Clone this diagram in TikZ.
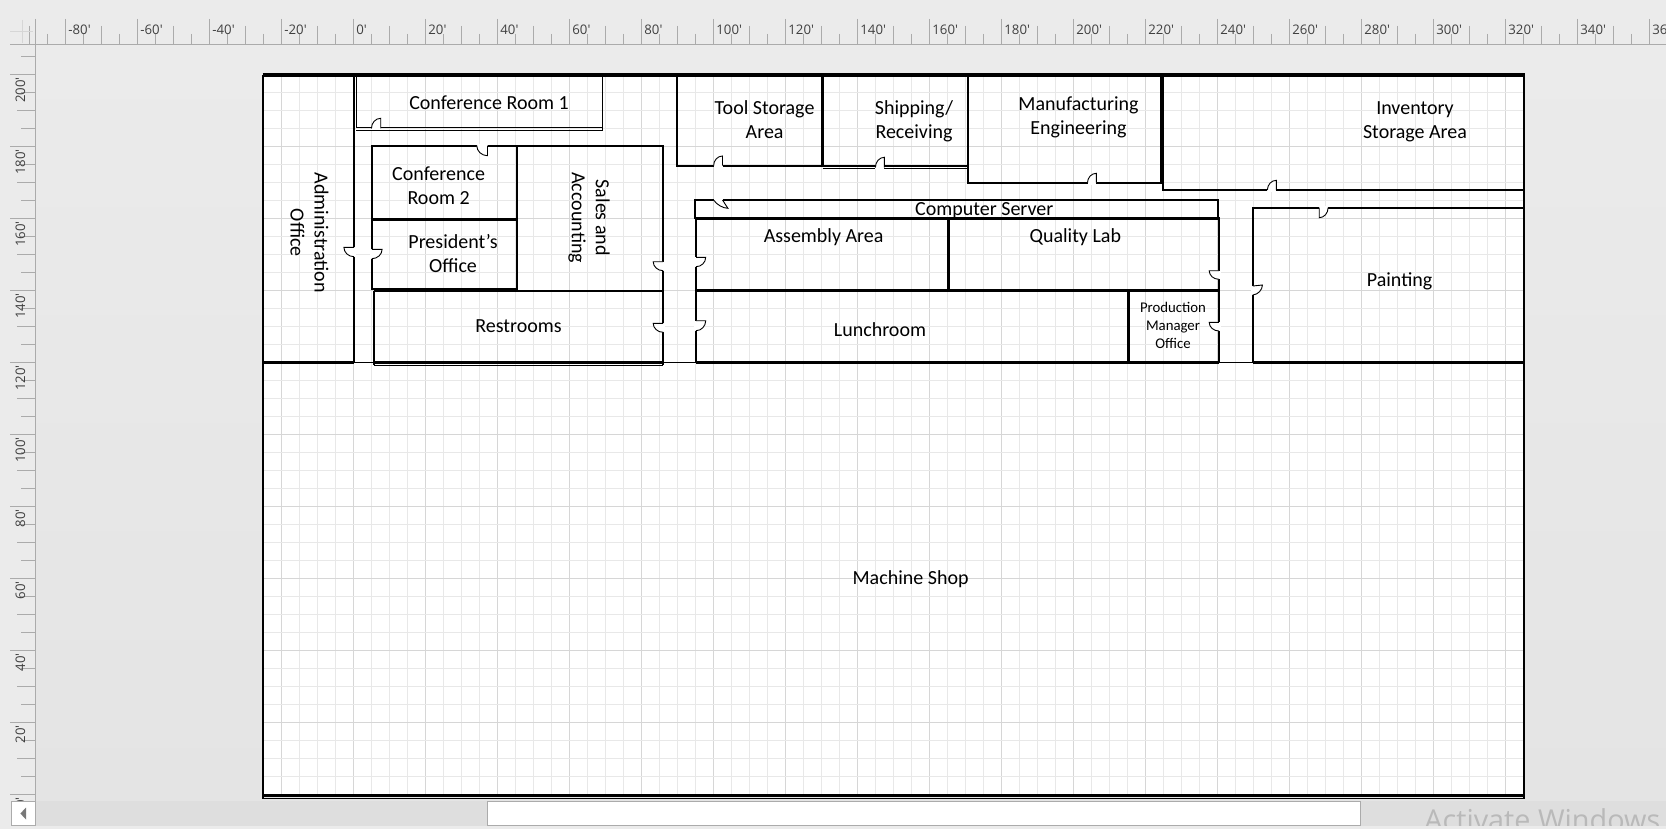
\documentclass[tikz,border=0pt]{standalone}
\usepackage{fontspec}
\setmainfont{Carlito}
\newfontfamily\uifont{Open Sans}
\definecolor{canvastop}{HTML}{EBEBEB}
\definecolor{canvasbottom}{HTML}{E4E4E4}
\definecolor{chromegrey}{HTML}{EBEBEB}
\definecolor{bargrey}{HTML}{DEDEDE}
\definecolor{tickgrey}{HTML}{ABABAB}
\definecolor{gridmajor}{HTML}{D6D6D6}
\definecolor{gridminor}{HTML}{E8E8E8}
\definecolor{rulertext}{HTML}{404040}
\definecolor{watermark}{HTML}{B9B9B9}
\tikzset{
  rulertick/.style={draw=tickgrey,line width=0.5pt},
  rulerlabel/.style={inner sep=0pt,text=rulertext,font=\uifont\fontsize{6.6}{8}\selectfont},
  wall/.style={draw=black,line width=1pt},
  thinwall/.style={draw=black,line width=0.6pt},
  thickwall/.style={draw=black,line width=1.6pt},
  roomlabel/.style={inner sep=0pt,align=center,font=\fontsize{10}{12}\selectfont},
  smalllabel/.style={inner sep=0pt,align=center,font=\fontsize{7.4}{9}\selectfont},
  doorleaf/.style={draw=black,line width=0.45pt,fill=white},
}
\newcommand{\doorsym}[6]{% hinge x,y ; leaf end x,y ; closing end x,y
  \draw[white,line width=1.9pt] (#1,#2) -- (#5,#6);
  \draw[doorleaf] (#1,#2) -- (#3,#4)
    .. controls ({#3+0.55*(#5-#1)},{#4+0.55*(#6-#2)}) and ({#5+0.55*(#3-#1)},{#6+0.55*(#4-#2)}) .. (#5,#6);
}
\begin{document}
\begin{tikzpicture}[x=0.5pt,y=-0.5pt]
\useasboundingbox (0,0) rectangle (1666,829);
\begin{scope}
\clip (0,0) rectangle (1666,829);
% window chrome
\fill[chromegrey] (0,0) rectangle (1666,829);
\shade[top color=canvastop,bottom color=canvasbottom] (35.7,44.5) rectangle (1666,801.3);
% top ruler
\foreach \k in {-18,...,73}{
  \pgfmathsetmacro{\tx}{353.5+18*\k}
  \pgfmathtruncatemacro{\mfour}{mod(\k+400,4)}
  \pgfmathtruncatemacro{\mtwo}{mod(\k+400,2)}
  \pgfmathsetmacro{\ty}{\mfour==0?19:(\mtwo==0?26:34)}
  \draw[rulertick] (\tx,\ty) -- (\tx,44.5);
}
\foreach \f in {-80,-60,...,360}{
  \pgfmathsetmacro{\tx}{353.5+3.6*\f+2.5}
  \node[rulerlabel,anchor=west] (top\f) at (\tx,29.5) {\f'};
}
% left ruler
\foreach \k in {-1,...,40}{
  \pgfmathsetmacro{\ty}{74.5+18*\k}
  \pgfmathtruncatemacro{\mfour}{mod(\k+400,4)}
  \pgfmathtruncatemacro{\mtwo}{mod(\k+400,2)}
  \pgfmathsetmacro{\tx}{\mfour==0?10:(\mtwo==0?17:21)}
  \draw[rulertick] (\tx,\ty) -- (35.5,\ty);
}
\foreach \f in {200,180,...,0}{
  \pgfmathsetmacro{\ty}{794.5-3.6*\f+2.5}
  \node[rulerlabel,rotate=90,anchor=east] (left\f) at (20.4,\ty) {\f'};
}
\draw[rulertick] (10,44.5) -- (1666,44.5);
\draw[rulertick] (35.5,19) -- (35.5,801.3);
\draw[gridmajor,line width=0.5pt] (10,31.5) -- (33,31.5) (22.5,20) -- (22.5,43);
% page
\fill[white] (263.2,75) rectangle (1523.9,796);
\begin{scope}
\clip (263.2,75) rectangle (1523.9,796);
\foreach \k in {-5,...,65}{
  \pgfmathsetmacro{\gx}{353.5+18*\k}
  \pgfmathtruncatemacro{\mfour}{mod(\k+400,4)}
  \ifnum\mfour=0\relax
    \draw[gridmajor,line width=0.5pt] (\gx,75) -- (\gx,796);
  \else
    \draw[gridminor,line width=0.5pt] (\gx,75) -- (\gx,796);
  \fi
}
\foreach \k in {0,...,40}{
  \pgfmathsetmacro{\gy}{74.5+18*\k}
  \pgfmathtruncatemacro{\mfour}{mod(\k+400,4)}
  \ifnum\mfour=0\relax
    \draw[gridmajor,line width=0.5pt] (263.2,\gy) -- (1523.9,\gy);
  \else
    \draw[gridminor,line width=0.5pt] (263.2,\gy) -- (1523.9,\gy);
  \fi
}
\end{scope}
% outer walls
\draw[thickwall] (262.5,75) -- (1524.5,75);
\draw[wall] (263.2,75) -- (263.2,798.5);
\draw[wall] (1523.6,75) -- (1523.6,798.5);
\draw[line width=1.5pt] (262.5,795.2) -- (1524.5,795.2);
\draw[line width=0.5pt] (262.5,798.2) -- (1524.5,798.2);
\draw[thinwall,line width=0.45pt] (263.2,362.3) -- (1524,362.3);
% administration office
\draw[wall] (354,75) -- (354,362.3);
\draw[wall,line width=1.2pt] (263.2,362.3) -- (354,362.3);
% conference room 1
\draw[thinwall] (356.4,75) -- (356.4,128.5) (602.1,75) -- (602.1,130);
\draw[wall,line width=0.7pt] (356.4,127.7) -- (602.5,127.7);
\draw[line width=0.45pt] (356.4,130) -- (602.5,130);
\draw[thickwall] (356,75) -- (602.5,75);
% conference room 2 / president / sales
\draw[wall] (371.8,145.7) rectangle (517.1,219.3);
\draw[wall,line width=1.3pt] (371.8,219.3) rectangle (517.1,289);
\draw[wall,line width=0.9pt] (517.1,145.7) -- (663.2,145.7) -- (663.2,290.7) -- (517.1,290.7);
% restrooms
\draw[wall,line width=1.1pt] (373.9,290.7) -- (373.9,365);
\draw[wall,line width=0.9pt] (373.9,290.7) -- (663.2,290.7) -- (663.2,365);
\draw[wall,line width=1.3pt] (373.9,362.3) -- (663.2,362.3);
\draw[line width=0.45pt] (373.9,365) -- (663.2,365);
% tool storage, shipping, manufacturing
\draw[wall] (676.8,75) -- (676.8,165.7) -- (822.5,165.7) -- (822.5,75);
\draw[wall] (676.8,75) -- (822.5,75);
\draw[wall,line width=1.4pt] (822.5,75) -- (822.5,167);
\draw[wall,line width=0.8pt] (822.5,76) -- (967.9,76);
\draw[line width=0.7pt] (822.5,166.2) -- (967.9,166.2);
\draw[line width=0.45pt] (822.5,168.5) -- (967.9,168.5);
\draw[wall] (967.9,168) -- (967.9,182.7) -- (1162,182.7);
\draw[thickwall,line width=1.4pt] (967.9,75) -- (967.9,168);
\draw[thickwall] (967.9,75) -- (1162,75);
\draw[thickwall] (1162,75) -- (1162,182.7);
% inventory
\draw[wall] (1162.8,182) -- (1162.8,190) -- (1524,190);
% computer server
\draw[wall] (695,218.5) -- (695,200) -- (1218.1,200) -- (1218.1,218.5);
% assembly, quality
\draw[wall,line width=1.4pt] (695,218.5) -- (1219.5,218.5);
\draw[wall] (696,218.5) -- (696,362.3);
\draw[wall,line width=1.3pt] (948.2,218.5) -- (948.2,290.7);
\draw[wall] (1218.9,218.5) -- (1218.9,362.3);
\draw[wall,line width=1.4pt] (696,290.7) -- (1218.9,290.7);
% lunchroom, production manager
\draw[wall,line width=1.3pt] (1128.5,290.7) -- (1128.5,362.3);
\draw[wall,line width=1.3pt] (696,362.3) -- (1218.9,362.3);
% painting
\draw[wall] (1252.8,362.3) -- (1252.8,207.7) -- (1524,207.7);
\draw[wall,line width=1.3pt] (1252.8,362.3) -- (1524,362.3);
% doors
\doorsym{380.7}{128.5}{380.7}{118.3}{371.4}{128.5}
\doorsym{487.5}{145.7}{487.5}{155.7}{476.8}{145.7}
\doorsym{354}{247.3}{343.9}{247.3}{354}{256.7}
\doorsym{371.8}{249.3}{382.1}{249.3}{371.8}{258.7}
\doorsym{663.2}{261.7}{653.2}{261.7}{663.2}{270.7}
\doorsym{663.2}{323.3}{653.2}{323.3}{663.2}{332.3}
\doorsym{696}{257.3}{705.7}{257.3}{696}{266.7}
\doorsym{696}{320.7}{705.7}{320.7}{696}{330.7}
\doorsym{722.5}{165.7}{722.5}{156}{713.6}{165.7}
\doorsym{884.3}{167.5}{884.3}{157.3}{875.4}{167.5}
\doorsym{1096.4}{182.7}{1096.4}{173.3}{1087.5}{182.7}
\doorsym{1276.4}{190}{1276.4}{180.3}{1267.4}{190}
\doorsym{722.5}{200}{727.9}{208.3}{713.6}{200}
\doorsym{1319.2}{207.7}{1319.2}{217.7}{1328.1}{207.7}
\doorsym{1252.8}{286}{1262.4}{285}{1252.8}{295}
\doorsym{1218.9}{270.7}{1209.2}{270.7}{1218.9}{279.3}
\doorsym{1218.9}{322.3}{1209.2}{322.3}{1218.9}{331}
% room labels
\node[roomlabel,rotate=-90] (admin) at (309.5,232.8) {Administration\\Office};
\node[roomlabel] (conf1) at (489,102.7) {Conference Room 1};
\node[roomlabel] (conf2) at (438.6,186) {Conference\\Room 2};
\node[roomlabel] (pres) at (453,254) {President’s\\Office};
\node[roomlabel,rotate=-90] (sales) at (589,217.8) {Sales and\\Accounting};
\node[roomlabel] (rest) at (518.5,325.7) {Restrooms};
\node[roomlabel] (tool) at (764.6,119.7) {Tool Storage\\Area};
\node[roomlabel] (ship) at (914,121.5) {Shipping/\\Receiving};
\node[roomlabel] (manu) at (1078.5,117) {Manufacturing\\Engineering};
\node[roomlabel] (inv) at (1415,122) {Inventory\\Storage Area};
\node[roomlabel] (server) at (984.3,211) {Computer Server};
\node[roomlabel] (assy) at (823.6,237) {Assembly Area};
\node[roomlabel] (qual) at (1075.3,237) {Quality Lab};
\node[roomlabel] (lunch) at (880,330) {Lunchroom};
\node[roomlabel] (paint) at (1399.6,281) {Painting};
\node[smalllabel] (prod) at (1173,325.3) {Production\\Manager\\Office};
\node[roomlabel] (shop) at (910.6,579.6) {Machine Shop};
% scroll bar
\fill[chromegrey] (0,801.3) rectangle (1666,829);
\fill[bargrey] (35.7,801.3) rectangle (1666,825.7);
\draw[tickgrey,fill=white,line width=0.5pt] (11.4,801.8) rectangle (35.7,825.7);
\fill[tickgrey!70!black] (20.4,813.5) -- (26,807.5) -- (26,819.5) -- cycle;
\draw[tickgrey,fill=white,line width=0.5pt] (487.5,801.8) rectangle (1360.6,825.7);
\begin{scope}
\clip (1400,801.3) rectangle (1666,825.7);
\node[inner sep=0pt,anchor=base west,text=watermark,font=\uifont\fontsize{14.4}{16}\selectfont] (activate) at (1424,830) {Activate Windows};
\end{scope}
\end{scope}
\end{tikzpicture}
\end{document}
